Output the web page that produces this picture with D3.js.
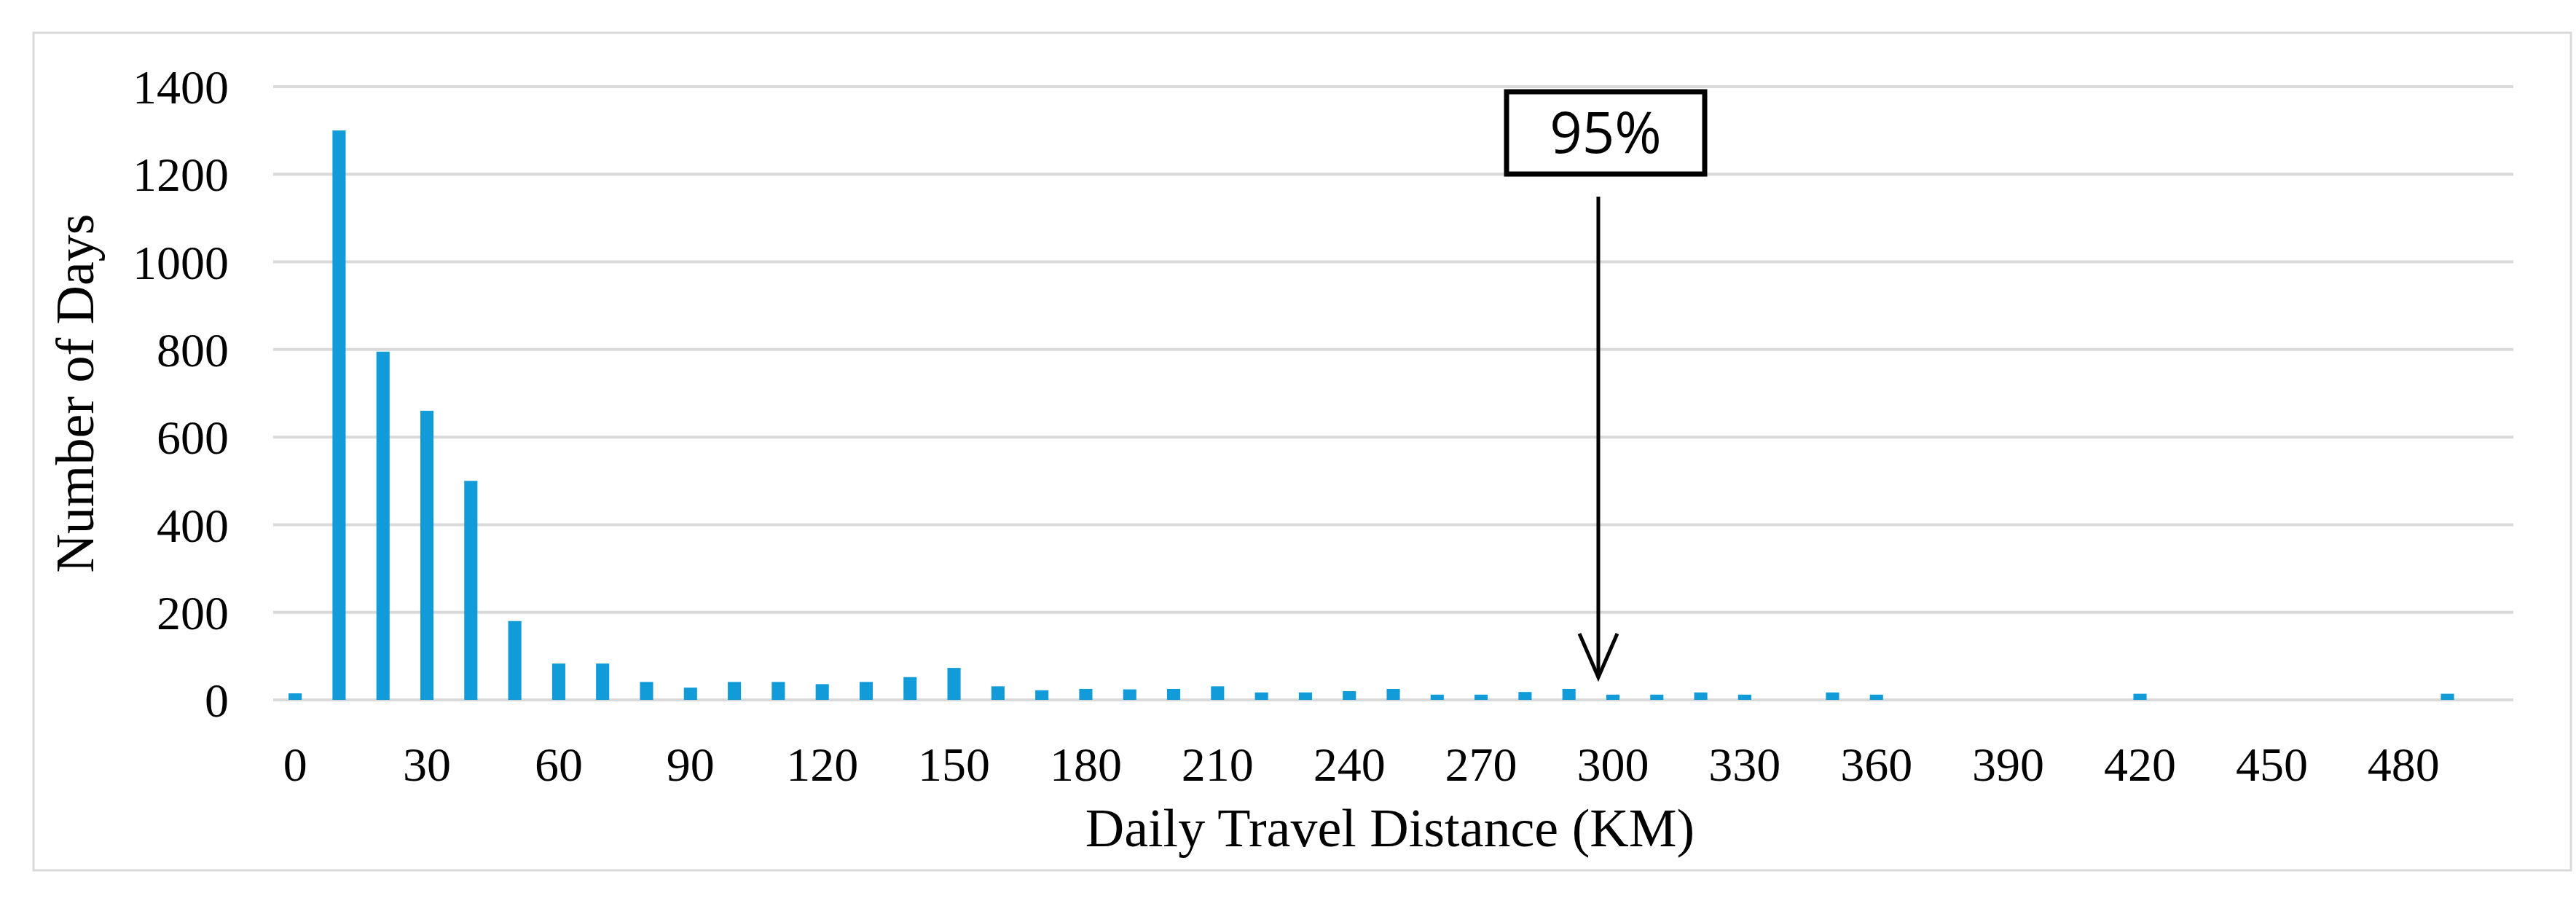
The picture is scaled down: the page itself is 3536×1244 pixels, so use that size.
<!DOCTYPE html>
<html><head><meta charset="utf-8">
<script src="https://cdn.jsdelivr.net/npm/d3@7"></script>
<style>body{margin:0;background:#fff}</style></head>
<body><svg id="c" width="3536" height="1244"></svg>
<script>
const categories = d3.range(0, 510, 10);
const days = [15,1300,795,660,500,180,83,83,41,28,41,41,36,41,52,73,31,22,25,24,25,31,17,17,20,25,12,12,18,25,12,12,17,12,0,17,12,0,0,0,0,0,14,0,0,0,0,0,0,14,0];
const yTicks = [0,200,400,600,800,1000,1200,1400];
const xTickLabels = d3.range(0, 490, 30);
const annotationLabel = "95%";
const annotationAt = 300;

const svg = d3.select("#c");
const L = 375, R = 3450, T = 119, B = 961;
svg.append("rect").attr("x",46).attr("y",45).attr("width",3483).attr("height",1150)
  .attr("fill","none").attr("stroke","#d9d9d9").attr("stroke-width",3);

const x = d3.scaleBand().domain(categories).range([L,R]).paddingInner(0.7).paddingOuter(0.35);
const xc = v => x(v) + x.bandwidth()/2;
const y = d3.scaleLinear().domain([0,1400]).range([B,T]);

svg.append("g").selectAll("line").data(yTicks).join("line")
  .attr("x1",L).attr("x2",R).attr("y1",d=>y(d)).attr("y2",d=>y(d))
  .attr("stroke","#d9d9d9").attr("stroke-width",4);

svg.append("g").selectAll("rect").data(categories).join("rect")
  .attr("x",d=>x(d)).attr("width",x.bandwidth())
  .attr("y",(d,i)=>y(days[i])).attr("height",(d,i)=>B-y(days[i]))
  .attr("fill","#119bd8");

const serif = "'Liberation Serif','DejaVu Serif',serif";
svg.append("g").selectAll("text").data(yTicks).join("text")
  .attr("x",314).attr("y",d=>y(d)).attr("dy","0.35em").attr("text-anchor","end")
  .attr("font-family",serif).attr("font-size",66).text(d=>d);
svg.append("g").selectAll("text").data(xTickLabels).join("text")
  .attr("x",d=>xc(d)).attr("y",1072).attr("text-anchor","middle")
  .attr("font-family",serif).attr("font-size",66).text(d=>d);

svg.append("text").attr("transform","translate(128,540) rotate(-90)").attr("text-anchor","middle")
  .attr("font-family",serif).attr("font-size",74).text("Number of Days");
svg.append("text").attr("x",1908).attr("y",1162).attr("text-anchor","middle")
  .attr("font-family",serif).attr("font-size",74).text("Daily Travel Distance (KM)");

const ax = xc(annotationAt) - 20;
svg.append("line").attr("x1",ax).attr("x2",ax).attr("y1",270).attr("y2",928)
  .attr("stroke","#000").attr("stroke-width",5);
svg.append("path").attr("d",`M${ax-26},870 L${ax},930 L${ax+26},870`)
  .attr("fill","none").attr("stroke","#000").attr("stroke-width",5);
svg.append("rect").attr("x",2068).attr("y",126).attr("width",272).attr("height",113)
  .attr("fill","#fff").attr("stroke","#000").attr("stroke-width",7);
svg.append("text").attr("x",2204).attr("y",182).attr("dy","0.36em").attr("text-anchor","middle")
  .attr("font-family","'Open Sans','Noto Sans',sans-serif").attr("font-size",78).text(annotationLabel);
</script></body></html>
